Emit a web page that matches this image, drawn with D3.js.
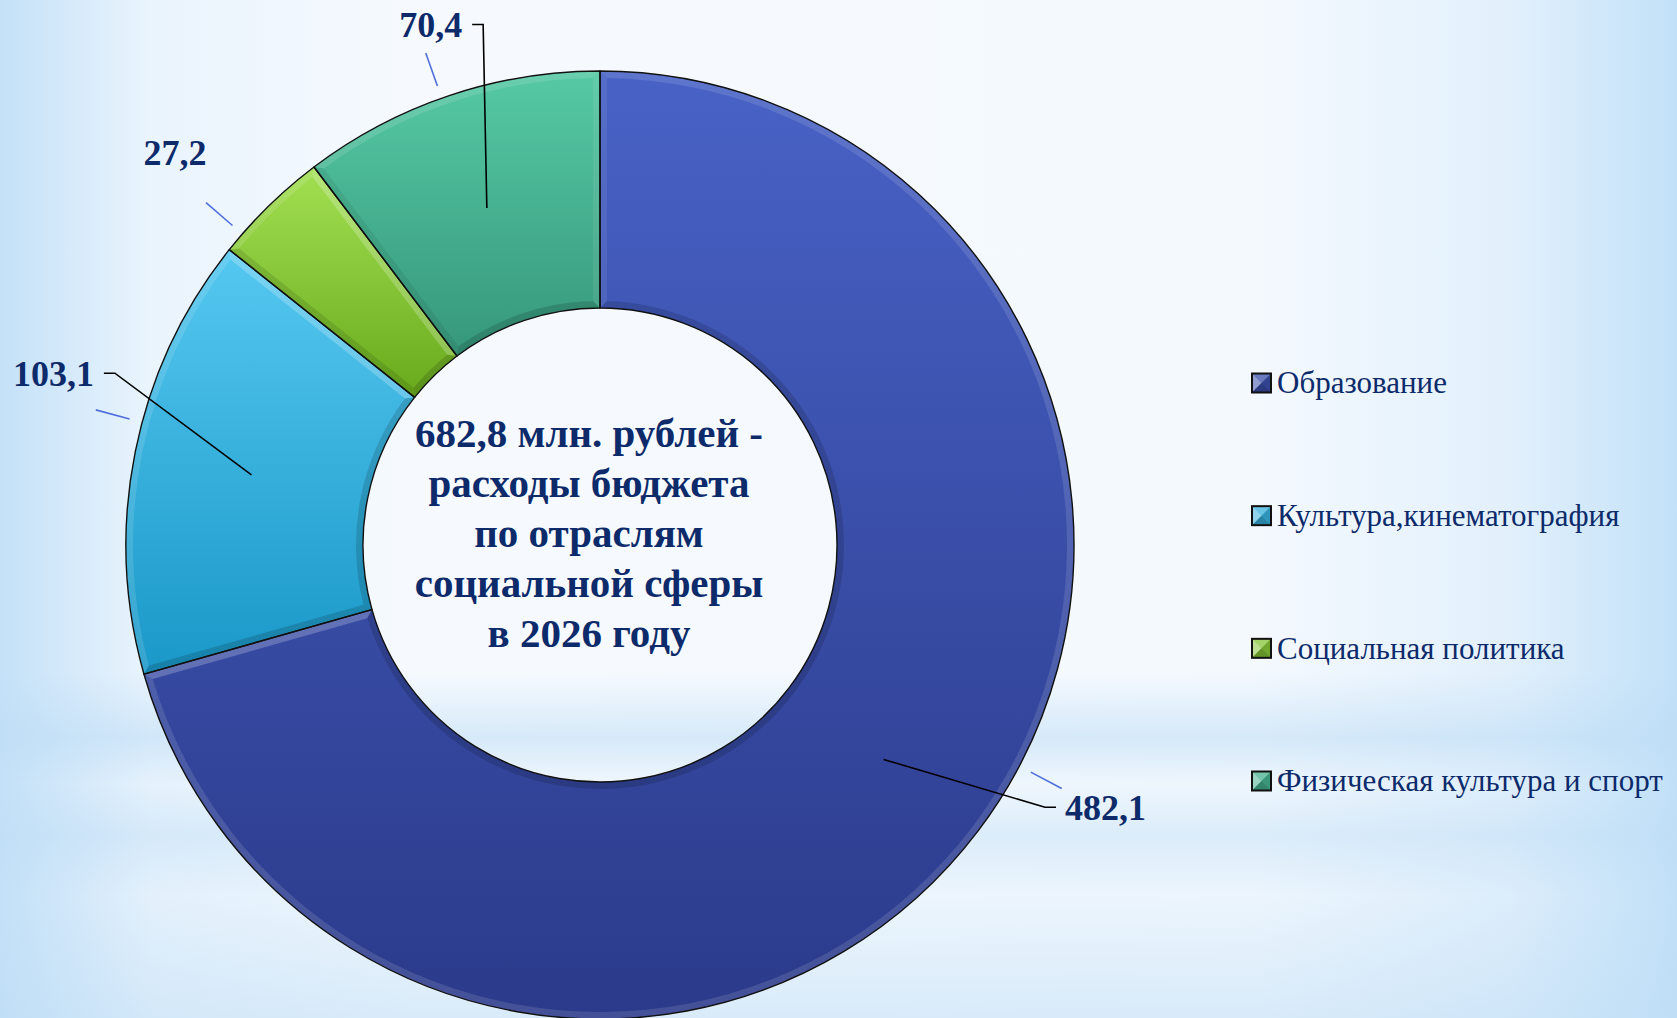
<!DOCTYPE html>
<html>
<head>
<meta charset="utf-8">
<script src="https://d3js.org/d3.v7.min.js"></script>
<style>
  html, body { margin: 0; padding: 0; overflow: hidden; background: #f3f8fd; }
  svg { display: block; }
</style>
</head>
<body>
<div id="chart"></div>
<script>
  // data
  const categories = ["Образование", "Культура,кинематография", "Социальная политика", "Физическая культура и спорт"];
  const values = [482.1, 103.1, 27.2, 70.4];
  const valueLabels = ["482,1", "103,1", "27,2", "70,4"];
  const centerLines = ["682,8 млн. рублей -", "расходы бюджета", "по отраслям", "социальной сферы", "в 2026 году"];
  const topColors = ["#4862c6", "#55c8f0", "#a2e052", "#56c9a4"];
  const bottomColors = ["#2b3a8a", "#1a98c8", "#68aa1c", "#36977a"];

  // layout
  const width = 1677, height = 1018;
  const cx = 600, cy = 545, R = 474, r = 237, bevel = 7;
  const labelAngle = [119.9, 289.1, 315.7, 346.2];   // degrees, clockwise from top
  const labelRadius = [526, 525, 549, 536];
  const tickAngle = [117.8, 285, 311, 340.5];
  const showLeader = [true, true, false, true];
  const navy = "#0d2b6b";
  const serif = "'Liberation Serif', 'Times New Roman', serif";

  const svg = d3.select('#chart').append('svg')
    .attr('width', width)
    .attr('height', height);

  const defs = svg.append('defs');

  // background
  const bgH = defs.append('linearGradient').attr('id', 'bgH').attr('x1', 0).attr('x2', 1).attr('y1', 0).attr('y2', 0);
  bgH.append('stop').attr('offset', 0).attr('stop-color', '#c4e1f8');
  bgH.append('stop').attr('offset', 0.09).attr('stop-color', '#eaf4fd');
  bgH.append('stop').attr('offset', 0.25).attr('stop-color', '#f6fafe');
  bgH.append('stop').attr('offset', 0.75).attr('stop-color', '#f4f9fe');
  bgH.append('stop').attr('offset', 0.9).attr('stop-color', '#e2f0fc');
  bgH.append('stop').attr('offset', 1).attr('stop-color', '#c2e1f8');

  const bgV = defs.append('linearGradient').attr('id', 'bgV').attr('x1', 0).attr('x2', 0).attr('y1', 0).attr('y2', 1);
  [[0, 0], [0.66, 0], [0.725, 0.55], [0.77, 0.1], [0.82, 0.45], [0.88, 0.15], [1, 0.5]].forEach(s => {
    bgV.append('stop').attr('offset', s[0]).attr('stop-color', '#bcdcf5').attr('stop-opacity', s[1]);
  });

  svg.append('rect').attr('width', width).attr('height', height).attr('fill', 'url(#bgH)');
  svg.append('rect').attr('width', width).attr('height', height).attr('fill', 'url(#bgV)');

  // slice gradients
  categories.forEach((c, i) => {
    const g = defs.append('linearGradient').attr('id', 'sg' + i)
      .attr('x1', 0).attr('x2', 0).attr('y1', 0).attr('y2', 1);
    g.append('stop').attr('offset', 0).attr('stop-color', topColors[i]);
    g.append('stop').attr('offset', 1).attr('stop-color', bottomColors[i]);
  });

  const pie = d3.pie().value(d => d).sort(null);
  const arcs = pie(values);

  const arc = d3.arc().innerRadius(r).outerRadius(R);

  const chart = svg.append('g').attr('transform', 'translate(' + cx + ',' + cy + ')');

  chart.selectAll('path.slice')
    .data(arcs)
    .enter().append('path')
    .attr('class', 'slice')
    .attr('d', arc)
    .attr('fill', (d, i) => 'url(#sg' + i + ')');

  // bevel faces
  function pt(a, rad) { return [rad * Math.sin(a), -rad * Math.cos(a)]; }
  const H = Math.PI / 2;

  function faces(d) {
    const a0 = d.startAngle, a1 = d.endAngle;
    const Ro = R - bevel, ri = r + bevel;
    const a0o = a0 + Math.asin(bevel / Ro), a1o = a1 - Math.asin(bevel / Ro);
    const a0i = a0 + Math.asin(bevel / ri), a1i = a1 - Math.asin(bevel / ri);

    const outer = d3.path();
    outer.moveTo(...pt(a0, R));
    outer.arc(0, 0, R, a0 - H, a1 - H);
    outer.lineTo(...pt(a1o, Ro));
    outer.arc(0, 0, Ro, a1o - H, a0o - H, true);
    outer.closePath();

    const inner = d3.path();
    inner.moveTo(...pt(a0, r));
    inner.arc(0, 0, r, a0 - H, a1 - H);
    inner.lineTo(...pt(a1i, ri));
    inner.arc(0, 0, ri, a1i - H, a0i - H, true);
    inner.closePath();

    const start = d3.path();
    start.moveTo(...pt(a0, R)); start.lineTo(...pt(a0o, Ro));
    start.lineTo(...pt(a0i, ri)); start.lineTo(...pt(a0, r)); start.closePath();

    const end = d3.path();
    end.moveTo(...pt(a1, R)); end.lineTo(...pt(a1o, Ro));
    end.lineTo(...pt(a1i, ri)); end.lineTo(...pt(a1, r)); end.closePath();

    // light from above
    const kStart = 0.2 + 0.6 * Math.sin(a0);
    const kEnd = 0.2 - 0.6 * Math.sin(a1);
    return [
      { d: outer.toString(), k: 0.3 },
      { d: inner.toString(), k: -0.35 },
      { d: start.toString(), k: kStart },
      { d: end.toString(), k: kEnd }
    ];
  }

  arcs.forEach(d => {
    chart.append('g').selectAll('path')
      .data(faces(d))
      .enter().append('path')
      .attr('d', f => f.d)
      .attr('fill', f => f.k > 0 ? '#ffffff' : '#000000')
      .attr('fill-opacity', f => Math.min(0.22, Math.abs(f.k) * 0.4));
  });

  chart.selectAll('path.edge')
    .data(arcs)
    .enter().append('path')
    .attr('class', 'edge')
    .attr('d', arc)
    .attr('fill', 'none')
    .attr('stroke', '#111')
    .attr('stroke-width', 1.4);

  // short radial ticks
  const deg = Math.PI / 180;
  chart.selectAll('line.tick')
    .data(arcs)
    .enter().append('line')
    .attr('class', 'tick')
    .attr('x1', (d, i) => pt(tickAngle[i] * deg, R + 13)[0])
    .attr('y1', (d, i) => pt(tickAngle[i] * deg, R + 13)[1])
    .attr('x2', (d, i) => pt(tickAngle[i] * deg, R + 48)[0])
    .attr('y2', (d, i) => pt(tickAngle[i] * deg, R + 48)[1])
    .attr('stroke', '#4f6fdc')
    .attr('stroke-width', 1.6);

  // leaders and labels
  arcs.forEach((d, i) => {
    const end = pt(labelAngle[i] * deg, labelRadius[i]);
    const left = end[0] < 0;
    const elbow = [end[0] + (left ? 11 : -11), end[1]];
    const c = arc.centroid(d);
    if (showLeader[i]) {
      chart.append('path')
        .attr('d', d3.line()([c, elbow, end]))
        .attr('fill', 'none')
        .attr('stroke', '#000')
        .attr('stroke-width', 1.6);
    }
    chart.append('text')
      .attr('x', end[0] + (left ? -10 : 9))
      .attr('y', end[1])
      .attr('dy', '0.35em')
      .attr('text-anchor', left ? 'end' : 'start')
      .attr('font-family', serif)
      .attr('font-weight', 'bold')
      .attr('font-size', 36)
      .attr('fill', navy)
      .text(valueLabels[i]);
  });

  // center title
  chart.append('g').selectAll('text')
    .data(centerLines)
    .enter().append('text')
    .attr('x', -11)
    .attr('y', (d, i) => 2 + (i - 2) * 50)
    .attr('text-anchor', 'middle')
    .attr('font-family', serif)
    .attr('font-weight', 'bold')
    .attr('font-size', 41)
    .attr('fill', navy)
    .text(d => d);

  // legend
  const ly = d3.scalePoint().domain(categories).range([383, 781]);
  const legend = svg.append('g');
  const s = 19, lx = 1252;
  categories.forEach((c, i) => {
    const y0 = ly(c) - s / 2;
    const g = legend.append('g');
    const mid = d3.interpolateRgb(topColors[i], bottomColors[i])(0.5);
    g.append('rect').attr('x', lx).attr('y', y0).attr('width', s).attr('height', s).attr('fill', mid);
    const m = [lx + s / 2, y0 + s / 2];
    const tris = [
      [[lx, y0], [lx + s, y0], m, 0.25],
      [[lx, y0], [lx, y0 + s], m, 0.45],
      [[lx, y0 + s], [lx + s, y0 + s], m, -0.25],
      [[lx + s, y0], [lx + s, y0 + s], m, -0.15]
    ];
    tris.forEach(t => {
      g.append('path')
        .attr('d', d3.line()([t[0], t[1], t[2]]) + 'Z')
        .attr('fill', t[3] > 0 ? '#fff' : '#000')
        .attr('fill-opacity', Math.abs(t[3]));
    });
    g.append('rect').attr('x', lx).attr('y', y0).attr('width', s).attr('height', s)
      .attr('fill', 'none').attr('stroke', '#111').attr('stroke-width', 2);
    g.append('text')
      .attr('x', 1277)
      .attr('y', ly(c))
      .attr('dy', '0.33em')
      .attr('font-family', serif)
      .attr('font-size', 31)
      .attr('fill', navy)
      .text(c);
  });
</script>
</body>
</html>
